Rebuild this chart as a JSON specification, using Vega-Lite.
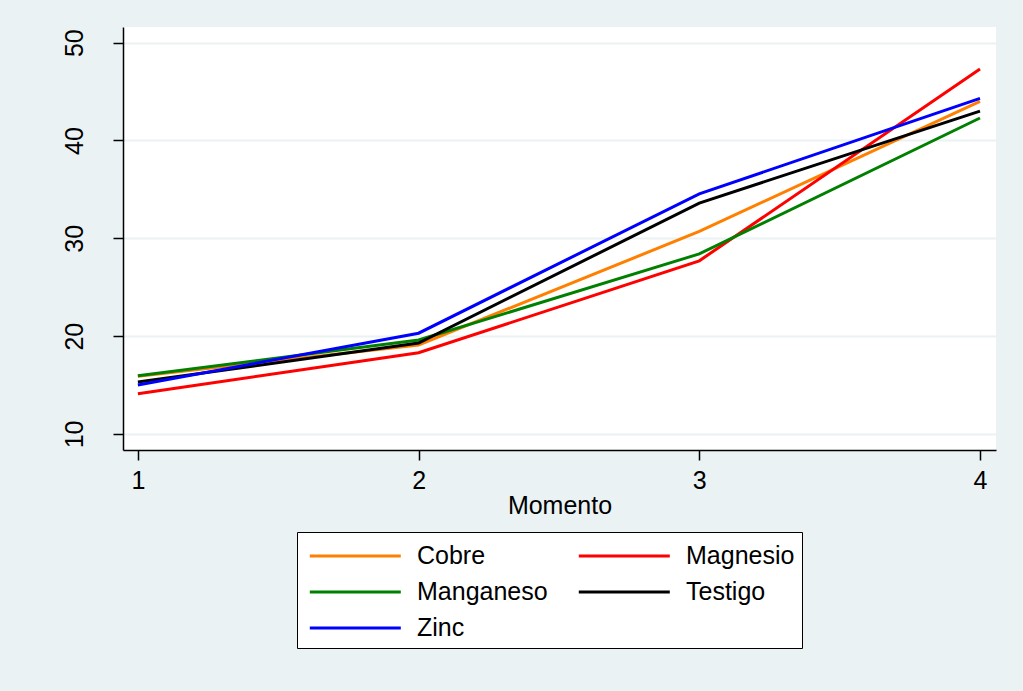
{
  "$schema": "https://vega.github.io/schema/vega-lite/v6.json",
  "width": 873,
  "height": 423,
  "autosize": {"type": "none"},
  "padding": {"left": 123, "top": 27, "right": 27, "bottom": 241},
  "background": "#EAF2F3",
  "config": {
    "view": {"stroke": null, "fill": "white"},
    "font": "Liberation Sans"
  },
  "data": {
    "values": [
      {"Momento": 1, "grupo": "Cobre", "valor": 15.9},
      {"Momento": 2, "grupo": "Cobre", "valor": 19.1},
      {"Momento": 3, "grupo": "Cobre", "valor": 30.7},
      {"Momento": 4, "grupo": "Cobre", "valor": 44.0},
      {"Momento": 1, "grupo": "Magnesio", "valor": 14.1},
      {"Momento": 2, "grupo": "Magnesio", "valor": 18.3},
      {"Momento": 3, "grupo": "Magnesio", "valor": 27.7},
      {"Momento": 4, "grupo": "Magnesio", "valor": 47.3},
      {"Momento": 1, "grupo": "Manganeso", "valor": 15.95},
      {"Momento": 2, "grupo": "Manganeso", "valor": 19.6},
      {"Momento": 3, "grupo": "Manganeso", "valor": 28.4},
      {"Momento": 4, "grupo": "Manganeso", "valor": 42.3},
      {"Momento": 1, "grupo": "Testigo", "valor": 15.3},
      {"Momento": 2, "grupo": "Testigo", "valor": 19.3},
      {"Momento": 3, "grupo": "Testigo", "valor": 33.6},
      {"Momento": 4, "grupo": "Testigo", "valor": 43.0},
      {"Momento": 1, "grupo": "Zinc", "valor": 15.0},
      {"Momento": 2, "grupo": "Zinc", "valor": 20.3},
      {"Momento": 3, "grupo": "Zinc", "valor": 34.55},
      {"Momento": 4, "grupo": "Zinc", "valor": 44.3}
    ]
  },
  "mark": {"type": "line", "strokeWidth": 3},
  "encoding": {
    "x": {
      "field": "Momento",
      "type": "quantitative",
      "scale": {"domain": [0.947, 4.057], "nice": false, "zero": false},
      "axis": {
        "values": [1, 2, 3, 4],
        "format": "d",
        "grid": false,
        "domainColor": "black",
        "domainWidth": 1.5,
        "tickColor": "black",
        "tickSize": 10,
        "tickWidth": 1.5,
        "labelFontSize": 25,
        "labelColor": "black",
        "labelPadding": 8,
        "title": "Momento",
        "titleFontSize": 25,
        "titleFontWeight": "normal",
        "titleColor": "black",
        "titlePadding": 0
      }
    },
    "y": {
      "field": "valor",
      "type": "quantitative",
      "scale": {"domain": [8.36, 51.6], "nice": false, "zero": false},
      "axis": {
        "values": [10, 20, 30, 40, 50],
        "grid": true,
        "gridColor": "#EAF2F3",
        "gridWidth": 2,
        "domainColor": "black",
        "domainWidth": 1.5,
        "tickColor": "black",
        "tickSize": 10,
        "tickWidth": 1.5,
        "labelFontSize": 25,
        "labelColor": "black",
        "labelAngle": 270,
        "labelAlign": "center",
        "labelBaseline": "alphabetic",
        "labelPadding": 31,
        "title": null
      }
    },
    "color": {
      "field": "grupo",
      "type": "nominal",
      "scale": {
        "domain": ["Cobre", "Magnesio", "Manganeso", "Testigo", "Zinc"],
        "range": ["#FF8000", "#FF0000", "#008000", "#000000", "#0000FF"]
      },
      "legend": {
        "title": null,
        "orient": "none",
        "legendX": 174,
        "legendY": 505,
        "direction": "horizontal",
        "columns": 2,
        "columnPadding": 24,
        "rowPadding": 6,
        "padding": 7,
        "fillColor": "white",
        "strokeColor": "black",
        "cornerRadius": 0,
        "symbolType": "M-3,0H3",
        "symbolSize": 920,
        "symbolOffset": 34.3,
        "symbolStrokeWidth": 3,
        "labelFontSize": 25,
        "labelColor": "black",
        "labelOffset": 44.7,
        "labelLimit": 300
      }
    }
  }
}
